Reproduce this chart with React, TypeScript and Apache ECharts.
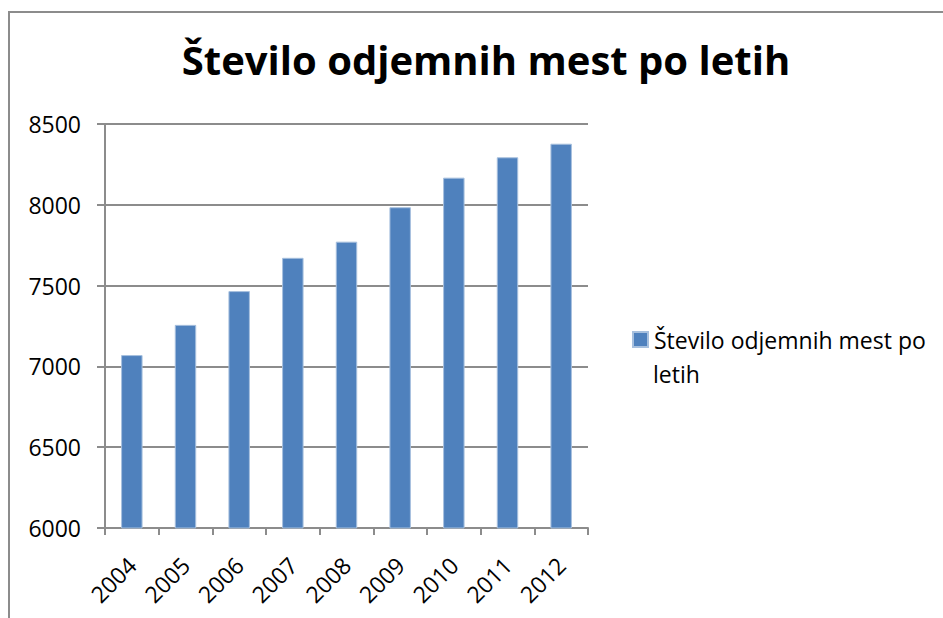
import React, { useEffect, useRef } from "react";
import * as echarts from "echarts";

const TITLE = "Število odjemnih mest po letih";
const SERIES_NAME = "Število odjemnih mest po letih";
const LEGEND_LINE1 = "Število odjemnih mest po";
const LEGEND_LINE2 = "letih";
const years = ["2004", "2005", "2006", "2007", "2008", "2009", "2010", "2011", "2012"];
const values = [7070, 7257, 7466, 7672, 7772, 7985, 8168, 8294, 8378];

const FONT = "'Open Sans', 'Noto Sans', sans-serif";

export default function App() {
  const ref = useRef<HTMLDivElement>(null);
  useEffect(() => {
    document.body.style.margin = "0";
    if (!ref.current) return;
    const chart = echarts.init(ref.current, undefined, { renderer: "svg" });
    chart.setOption({
      animation: false,
      backgroundColor: "#ffffff",
      title: {
        text: TITLE,
        left: 481,
        textAlign: "center",
        top: 34,
        textStyle: { fontFamily: FONT, fontWeight: "bold", fontSize: 40, color: "#000" },
      },
      graphic: [
        {
          type: "rect",
          shape: { x: 9, y: 12, width: 1000, height: 700 },
          style: { fill: "none", stroke: "#8c8c8c", lineWidth: 2 },
          silent: true,
        },
        {
          type: "text",
          left: 653,
          top: 362,
          style: { text: LEGEND_LINE2, font: `23px ${FONT}`, fill: "#000" },
          silent: true,
        },
      ],
      legend: {
        left: 632,
        top: 328,
        padding: 0,
        itemWidth: 15,
        itemHeight: 15,
        itemGap: 6,
        icon: "rect",
        formatter: () => LEGEND_LINE1,
        textStyle: { fontFamily: FONT, fontSize: 23, color: "#000", padding: [0, 0, 0, 1] },
      },
      grid: { left: 105, top: 124, width: 483, height: 404, containLabel: false },
      xAxis: {
        type: "category",
        data: years,
        axisLine: { lineStyle: { color: "#8c8c8c", width: 2 } },
        axisTick: { show: true, length: 7, alignWithLabel: false, lineStyle: { color: "#8c8c8c", width: 2 } },
        axisLabel: {
          rotate: 45,
          interval: 0,
          margin: 33,
          fontFamily: FONT,
          fontSize: 23,
          color: "#000",
        },
      },
      yAxis: {
        type: "value",
        min: 6000,
        max: 8500,
        interval: 500,
        axisLine: { show: true, lineStyle: { color: "#8c8c8c", width: 2 } },
        axisTick: { show: true, length: 8, lineStyle: { color: "#8c8c8c", width: 2 } },
        splitLine: { lineStyle: { color: "#8c8c8c", width: 2 } },
        axisLabel: { fontFamily: FONT, fontSize: 23, color: "#000", margin: 24, formatter: (v: number) => String(v) },
      },
      series: [
        {
          name: SERIES_NAME,
          type: "bar",
          data: values,
          barWidth: "40%",
          itemStyle: { color: "#4f81bd", borderColor: "#a7c0de", borderWidth: 1 },
        },
      ],
    });
    return () => chart.dispose();
  }, []);
  return <div ref={ref} style={{ width: 943, height: 618 }} />;
}
